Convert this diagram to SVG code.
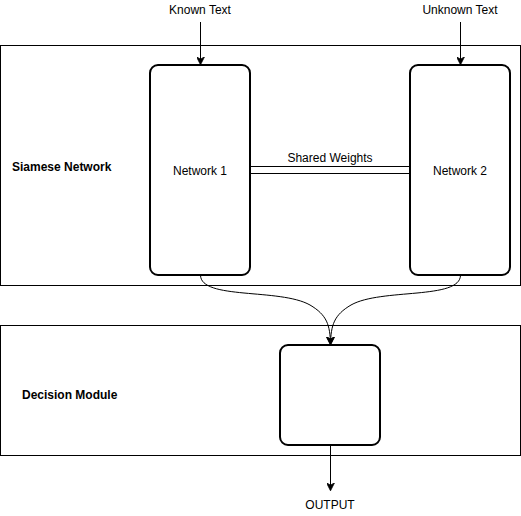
<svg xmlns="http://www.w3.org/2000/svg" width="521" height="516" viewBox="0 0 521 516">
<defs>
<style>
.t{font-family:"Liberation Sans",Arial,sans-serif;font-size:12px;fill:#000;text-anchor:middle}
.b{font-weight:bold;text-anchor:start}
.frame{fill:#fff;stroke:#000;stroke-width:1}
.node{fill:#fff;stroke:#000;stroke-width:2}
.edge{fill:none;stroke:#000;stroke-width:1}
</style>
<marker id="arr" viewBox="0 0 10 10" refX="9" refY="5" markerWidth="8" markerHeight="8" markerUnits="userSpaceOnUse" orient="auto">
<path d="M0,0 L10,5 L0,10 L3,5 Z" fill="#000" stroke="#000" stroke-width="1"/>
</marker>
</defs>
<rect width="521" height="516" fill="#fff"/>
<g id="siamese-frame"><rect class="frame" x="0.5" y="45.5" width="520" height="240"/><text class="t b" x="12" y="171">Siamese Network</text></g>
<g id="decision-frame"><rect class="frame" x="0.5" y="325.5" width="520" height="130"/><text class="t b" x="22" y="399">Decision Module</text></g>
<g id="network1"><rect class="node" x="150" y="65" width="100" height="210" rx="8"/><text class="t" x="200" y="175">Network 1</text></g>
<g id="network2"><rect class="node" x="410" y="65" width="100" height="210" rx="8"/><text class="t" x="460" y="175">Network 2</text></g>
<g id="decision"><rect class="node" x="280" y="345" width="100" height="100" rx="8"/></g>
<g id="labels">
<text class="t" x="200" y="14">Known Text</text>
<text class="t" x="460" y="14">Unknown Text</text>
<text class="t" x="330" y="509">OUTPUT</text>
</g>
<g id="connectors">
<path class="edge" d="M200.5,22 V64" marker-end="url(#arr)"/>
<path class="edge" d="M460.5,22 V64" marker-end="url(#arr)"/>
<path class="edge" d="M251,166.5 H409 M251,173.5 H409"/>
<text class="t" x="330" y="162">Shared Weights</text>
<path class="edge" d="M200.5,275 C200.5,300 280,288 310,305 C327,315 330,325 330.5,344" marker-end="url(#arr)"/>
<path class="edge" d="M460.5,275 C460.5,300 381,288 351,305 C334,315 331,325 330.5,344" marker-end="url(#arr)"/>
<path class="edge" d="M330.5,446 V490" marker-end="url(#arr)"/>
</g>
</svg>
